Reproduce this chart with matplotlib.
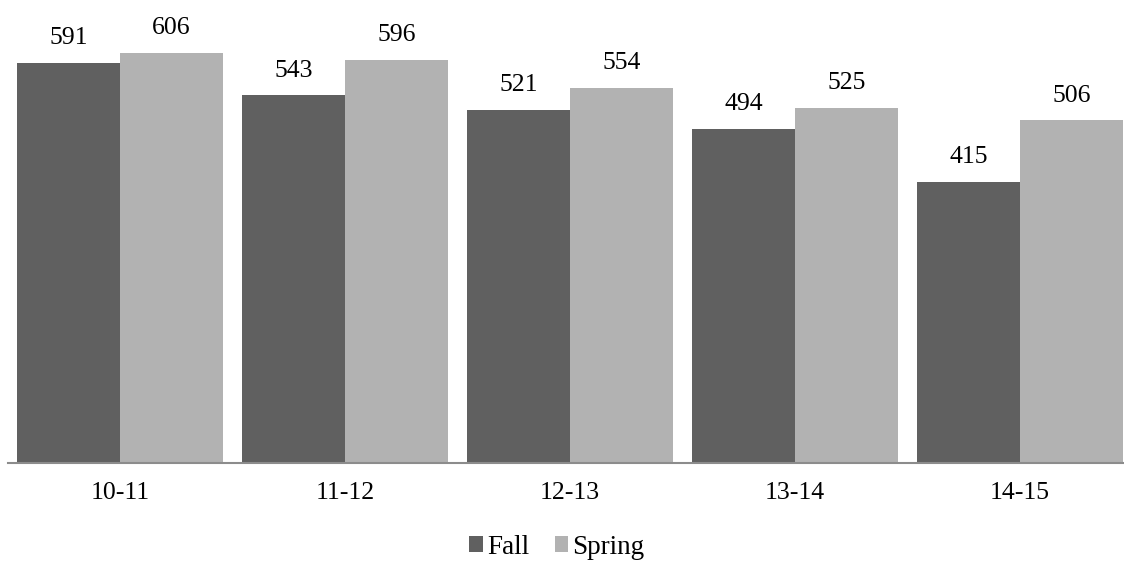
import matplotlib
matplotlib.use("Agg")
import matplotlib.pyplot as plt
import numpy as np

categories = ["10-11", "11-12", "12-13", "13-14", "14-15"]
fall = [591, 543, 521, 494, 415]
spring = [606, 596, 554, 525, 506]

plt.rcParams['font.family'] = ['Liberation Serif', 'DejaVu Serif']

W, H = 1124, 565
fig = plt.figure(figsize=(W / 100, H / 100), dpi=100)
left_px, right_px, base_px, top_px = 7.5, 1132.5, 463, 0
ax = fig.add_axes([left_px / W, (H - base_px) / H, (right_px - left_px) / W, (base_px - top_px) / H])

x = np.arange(len(categories))
bw = 0.4556
b1 = ax.bar(x - bw / 2, fall, bw, color="#606060", label="Fall")
b2 = ax.bar(x + bw / 2, spring, bw, color="#b2b2b2", label="Spring")
for bars, vals in ((b1, fall), (b2, spring)):
    for r, v in zip(bars, vals):
        ax.annotate(str(v), (r.get_x() + r.get_width() / 2, v), xytext=(0, 10),
                    textcoords="offset points", ha="center", va="bottom", fontsize=18.5,
                    annotation_clip=False)

ax.set_xlim(-0.5, 4.5)
ax.set_ylim(0, base_px / 0.677)
ax.set_xticks(x)
ax.set_xticklabels(categories, fontsize=18.5)
ax.tick_params(axis="x", length=0, pad=14)
ax.set_yticks([])
for s in ("top", "right", "left"):
    ax.spines[s].set_visible(False)
ax.spines["bottom"].set_color("#8c8c8c")
ax.spines["bottom"].set_linewidth(1.5)

fig.legend(handles=[b1, b2], labels=["Fall", "Spring"], loc="center", bbox_to_anchor=(557 / W, 1 - 547 / H),
           ncol=2, frameon=False, fontsize=19.5, handlelength=0.5, handleheight=0.5, handletextpad=0.15,
           columnspacing=0.95)

fig.savefig("out.png", dpi=100)
